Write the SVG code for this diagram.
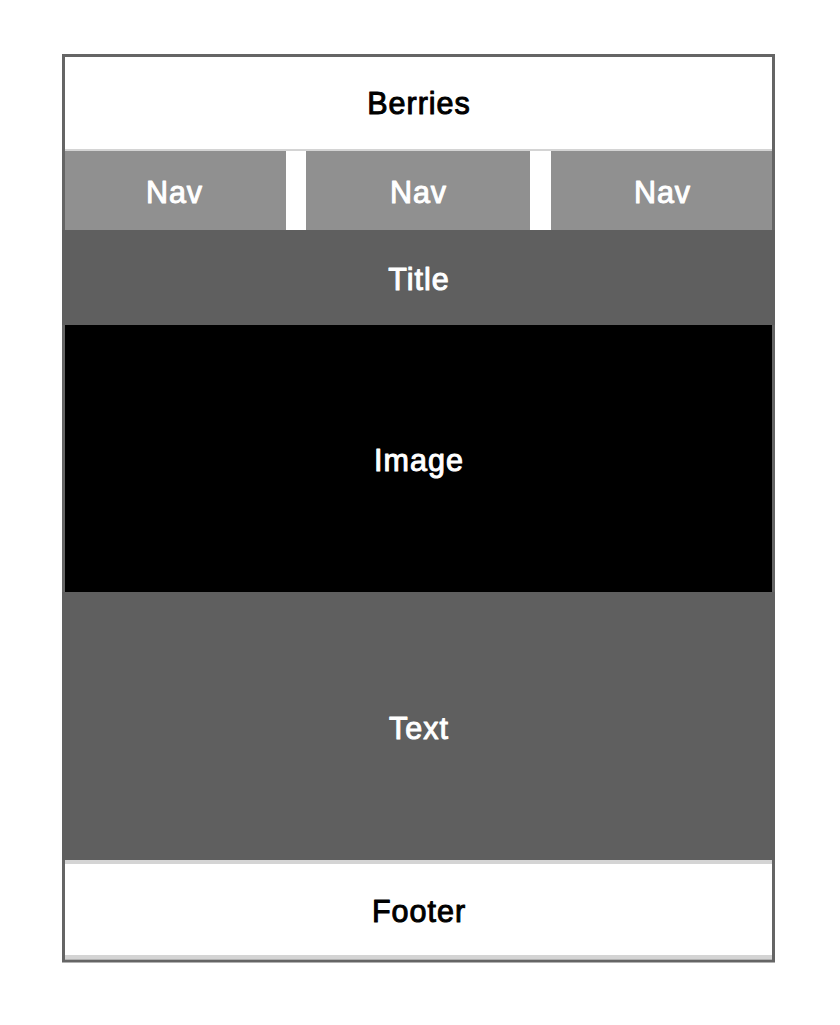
<svg xmlns="http://www.w3.org/2000/svg" width="840" height="1025" viewBox="0 0 840 1025">
<style>
.lbl{font-family:"Liberation Sans",Arial,Helvetica,sans-serif;font-size:30.5px;font-weight:normal;text-anchor:middle;stroke-width:1;stroke-linejoin:round;letter-spacing:1px}
.dark{fill:#000;stroke:#000}
.light{fill:#fff;stroke:#fff}
.nav{fill:#909090}
.mid{fill:#5f5f5f}
.sep{fill:#d4d4d4}
</style>
<rect width="840" height="1025" fill="#fff"/>
<g id="frame">
<rect x="63.5" y="55.5" width="710" height="905.5" fill="#fff" stroke="#656565" stroke-width="3"/>
</g>
<g id="header">
<rect x="65" y="57" width="707" height="92" fill="#fff"/>
<rect class="sep" x="65" y="149" width="707" height="2"/>
<text class="lbl dark" x="419" y="114">Berries</text>
</g>
<g id="nav1">
<rect class="nav" x="65" y="151" width="221" height="79"/>
<text class="lbl light" x="174.5" y="203">Nav</text>
</g>
<g id="nav2">
<rect class="nav" x="306" y="151" width="224" height="79"/>
<text class="lbl light" x="418.5" y="203">Nav</text>
</g>
<g id="nav3">
<rect class="nav" x="551" y="151" width="221" height="79"/>
<text class="lbl light" x="662.5" y="203">Nav</text>
</g>
<g id="title">
<rect class="mid" x="62" y="230" width="713" height="95"/>
<text class="lbl light" x="419" y="290">Title</text>
</g>
<g id="image">
<rect x="65" y="325" width="707" height="267" fill="#000"/>
<text class="lbl light" x="419" y="471">Image</text>
</g>
<g id="text">
<rect class="mid" x="62" y="592" width="713" height="268"/>
<text class="lbl light" x="419" y="739">Text</text>
</g>
<g id="footer">
<rect class="sep" x="65" y="860" width="707" height="4"/>
<rect x="65" y="864" width="707" height="91" fill="#fff"/>
<rect class="sep" x="65" y="955" width="707" height="4"/>
<text class="lbl dark" x="419" y="922">Footer</text>
</g>
<g id="connectors"/>
</svg>
